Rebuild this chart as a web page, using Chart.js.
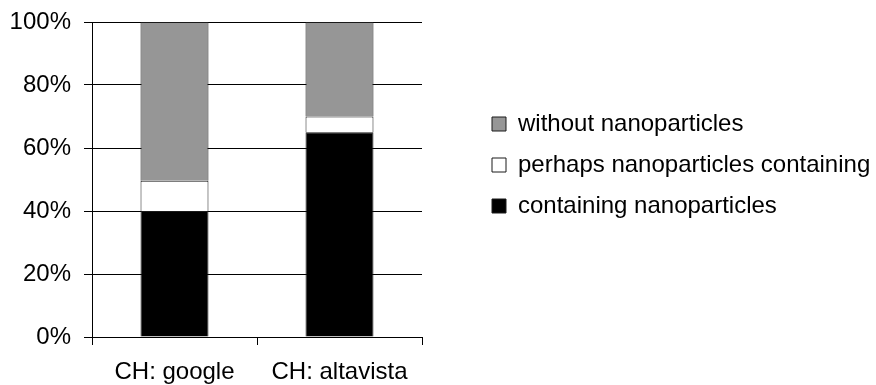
<!DOCTYPE html>
<html>
<head>
<meta charset="utf-8">
<script src="https://cdn.jsdelivr.net/npm/chart.js@4"></script>
<style>
  html, body { margin: 0; padding: 0; background: #fff; }
  #wrap { width: 876px; height: 385px; }
</style>
</head>
<body>
<div id="wrap"><canvas id="c" width="876" height="385"></canvas></div>
<script>
const categories = ['CH: google', 'CH: altavista'];
const containing = [40, 65];
const perhaps = [9.6, 5];
const without = [50.4, 30];
const yTicks = [0, 20, 40, 60, 80, 100];

const CANVAS_W = 876;
const PLOT_RIGHT = 422;
const LEGEND_LEFT = 475;
const LEGEND_TOP = 0;
const LEGEND_BOTTOM = 330;

const legendPlace = {
  id: 'legendPlace',
  beforeLayout(chart) {
    const lg = chart.legend;
    if (lg && !lg._placeWrapped) {
      const orig = lg.fit;
      lg.fit = function () { orig.call(this); this.width = CANVAS_W - PLOT_RIGHT; };
      lg._placeWrapped = true;
    }
  },
  afterLayout(chart) {
    const lg = chart.legend;
    if (lg) {
      lg.left = LEGEND_LEFT; lg.right = CANVAS_W;
      lg.top = LEGEND_TOP; lg.bottom = LEGEND_BOTTOM;
    }
  }
};

const font = { family: '"Liberation Sans", Arial, Helvetica, sans-serif', size: 24 };

new Chart(document.getElementById('c'), {
  type: 'bar',
  data: {
    labels: categories,
    datasets: [
      { label: 'containing nanoparticles', data: containing, backgroundColor: '#000000', borderColor: '#1a1a1a', borderWidth: 1 },
      { label: 'perhaps nanoparticles containing', data: perhaps, backgroundColor: '#ffffff', borderColor: '#1a1a1a', borderWidth: 1 },
      { label: 'without nanoparticles', data: without, backgroundColor: '#969696', borderColor: '#1a1a1a', borderWidth: 1 }
    ]
  },
  plugins: [legendPlace],
  options: {
    responsive: false,
    animation: false,
    devicePixelRatio: 1,
    layout: { padding: { left: 0, right: 0, top: 22, bottom: 0 } },
    datasets: { bar: { categoryPercentage: 1, barPercentage: 0.412 } },
    scales: {
      x: {
        stacked: true,
        afterFit(scale) { scale.height = 48; scale.paddingLeft = 0; scale.paddingRight = 0; },
        grid: { display: true, drawOnChartArea: false, drawTicks: true, tickLength: 8, color: '#000', lineWidth: 1 },
        border: { display: true, color: '#000', width: 1 },
        ticks: { color: '#000', font: font, padding: 13, maxRotation: 0 }
      },
      y: {
        stacked: true,
        min: 0, max: 100,
        afterBuildTicks(scale) { scale.ticks = yTicks.map(v => ({ value: v })); },
        afterFit(scale) { scale.width = 92; scale.paddingTop = 0; scale.paddingBottom = 0; },
        grid: { color: '#000', lineWidth: 1, tickLength: 8 },
        border: { display: true, color: '#000', width: 1 },
        ticks: { color: '#000', font: font, padding: 13, callback: v => v + '%' }
      }
    },
    plugins: {
      tooltip: { enabled: false },
      legend: {
        position: 'right',
        fullSize: false,
        reverse: true,
        align: 'center',
        labels: { color: '#000', font: font, boxWidth: 14, boxHeight: 14, padding: 17 }
      }
    }
  }
});
</script>
</body>
</html>
